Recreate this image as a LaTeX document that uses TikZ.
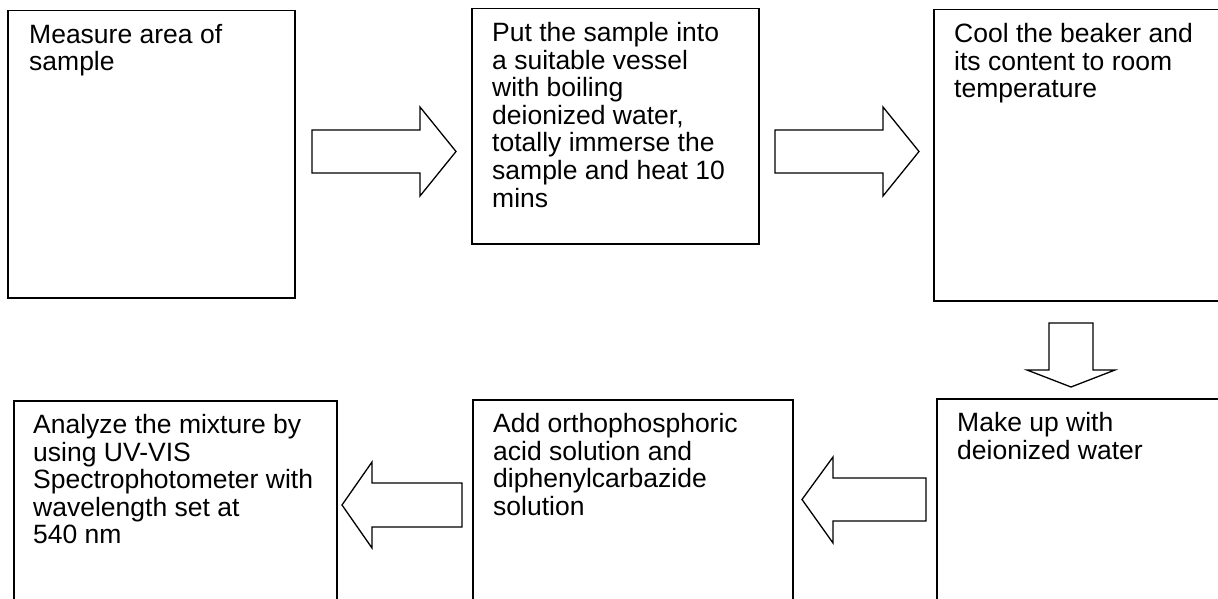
\documentclass[tikz,border=0pt]{standalone}
\usepackage{fontspec}
\setmainfont{Liberation Sans}
\begin{document}
\begin{tikzpicture}[x=1pt,y=-1pt,
  box/.style={draw, line width=1.5pt, inner sep=0pt, anchor=north west},
  txt/.style={anchor=north west, inner sep=0pt, align=left, font=\fontsize{26.5}{27.6}\selectfont},
  blockarrow/.style={draw, line width=1.3pt, fill=white, line join=miter}]
\useasboundingbox (0,0) rectangle (1218,599);
\clip (0,0) rectangle (1218,599);
% boxes
\node[box, minimum width=287pt, minimum height=287pt] (b1) at (7,10) {};
\node[box, minimum width=287pt, minimum height=235pt] (b2) at (471,8) {};
\node[box, minimum width=300pt, minimum height=291pt] (b3) at (933,9) {};
\node[box, minimum width=300pt, minimum height=220pt] (b4) at (936,398) {};
\node[box, minimum width=320pt, minimum height=220pt] (b5) at (472,399) {};
\node[box, minimum width=323pt, minimum height=220pt] (b6) at (13,400) {};
% texts
\node[txt] (t1) at ([xshift=22pt,yshift=-14pt]b1.north west) {Measure area of\\sample};
\node[txt] (t2) at ([xshift=21pt,yshift=-14pt]b2.north west) {Put the sample into\\a suitable vessel\\with boiling\\deionized water,\\totally immerse the\\sample and heat 10\\mins};
\node[txt] (t3) at ([xshift=21pt,yshift=-14pt]b3.north west) {Cool the beaker and\\its content to room\\temperature};
\node[txt] (t4) at ([xshift=21pt,yshift=-14pt]b4.north west) {Make up with\\deionized water};
\node[txt] (t5) at ([xshift=21pt,yshift=-14pt]b5.north west) {Add orthophosphoric\\acid solution and\\diphenylcarbazide\\solution};
\node[txt] (t6) at ([xshift=20pt,yshift=-14pt]b6.north west) {Analyze the mixture by\\using UV-VIS\\Spectrophotometer with\\wavelength set at\\540 nm};
% block arrows
\draw[blockarrow] (312,130) -- (420,130) -- (420,107) -- (456,151.5) -- (420,196) -- (420,173) -- (312,173) -- cycle;
\draw[blockarrow] (775,130) -- (883,130) -- (883,107) -- (919,151.5) -- (883,196) -- (883,173) -- (775,173) -- cycle;
\draw[blockarrow] (1049,323) -- (1093,323) -- (1093,370) -- (1115,370) -- (1071,387) -- (1027,370) -- (1049,370) -- cycle;
\draw[blockarrow] (926,478) -- (833,478) -- (833,457) -- (802,499.5) -- (833,543) -- (833,521) -- (926,521) -- cycle;
\draw[blockarrow] (462,483) -- (372,483) -- (372,462) -- (342,505) -- (372,548) -- (372,527) -- (462,527) -- cycle;
\end{tikzpicture}
\end{document}
